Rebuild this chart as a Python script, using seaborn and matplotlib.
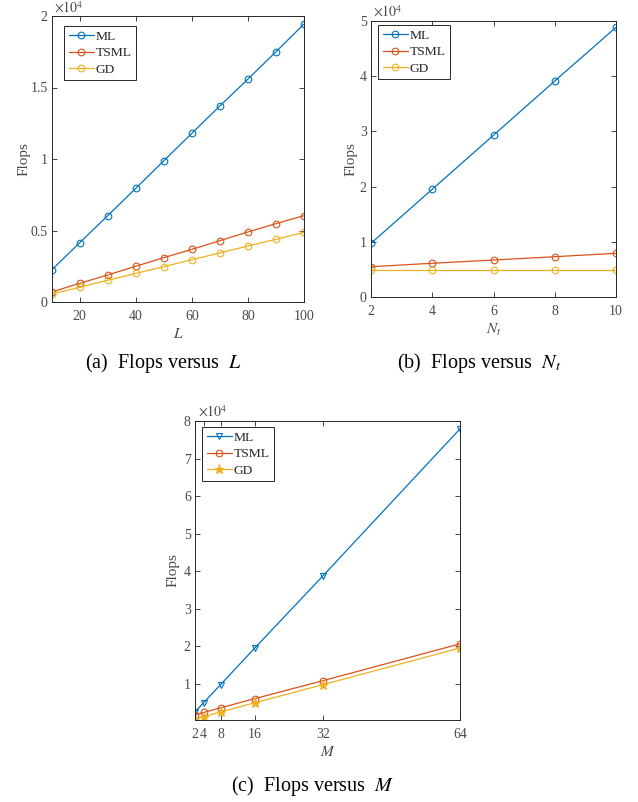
import numpy as np
import pandas as pd
import matplotlib
matplotlib.use("Agg")
import matplotlib.pyplot as plt
import seaborn as sns
from matplotlib.ticker import FuncFormatter

# ---------------- data (flops) ----------------
L_vals = [10, 20, 30, 40, 50, 60, 70, 80, 90, 100]
a_ML = [2240, 4150, 6040, 7950, 9880, 11800, 13710, 15590, 17500, 19440]
a_TSML = [700, 1310, 1890, 2500, 3100, 3680, 4290, 4900, 5480, 6040]
a_GD = [560, 1030, 1520, 2000, 2470, 2960, 3430, 3920, 4380, 4870]

Nt_vals = [2, 4, 6, 8, 10]
b_ML = [9760, 19530, 29300, 39100, 48800]
b_TSML = [5530, 6150, 6740, 7340, 7950]
b_GD = [4880, 4880, 4880, 4880, 4880]

M_vals = [2, 4, 8, 16, 32, 64]
c_ML = [2440, 4880, 9750, 19500, 38800, 77900]
c_TSML = [1700, 2300, 3550, 6000, 10800, 20600]
c_GD = [600, 1200, 2450, 4900, 9750, 19500]

series_names = ["ML", "TSML", "GD"]
captions = [r"(a)  Flops versus  $L$", r"(b)  Flops versus  $N_t$", r"(c)  Flops versus  $M$"]
xlabels = [r"$L$", r"$N_t$", r"$M$"]

colors = ["#0072BD", "#D95319", "#EDB120"]

# ---------------- style ----------------
sns.set_style("ticks")
plt.rcParams["font.family"] = ["Liberation Serif", "DejaVu Serif"]
plt.rcParams["mathtext.fontset"] = "stix"
dark = "#262626"
grey = "#4a4a4a"
plt.rcParams.update({
    "xtick.direction": "in", "ytick.direction": "in",
    "xtick.top": True, "ytick.right": True,
    "xtick.major.size": 3.5, "ytick.major.size": 3.5,
    "xtick.major.width": 0.6, "ytick.major.width": 0.6,
    "axes.edgecolor": dark, "axes.linewidth": 0.7,
    "xtick.color": dark, "ytick.color": dark,
    "xtick.labelcolor": grey, "ytick.labelcolor": grey,
    "axes.labelcolor": grey,
})

fig = plt.figure(figsize=(6.38, 8.02), dpi=100)
W, H = 638, 802

def add_ax(left, top, right, bottom):
    ax = fig.add_axes([left / W, 1 - bottom / H, (right - left) / W, (bottom - top) / H])
    ax._pxsize = (right - left, bottom - top)
    return ax

ax_a = add_ax(51.7, 16, 304, 302)
ax_b = add_ax(371, 20.7, 616, 297.3)
ax_c = add_ax(195, 421, 460, 720)

fmt = FuncFormatter(lambda v, p: f"{v:g}")

def draw(ax, x, ys, markers, fills, leg_dx, leg_dy, ylabpad):
    for name, y, col, m, f in zip(series_names, ys, colors, markers, fills):
        df = pd.DataFrame({"x": x, "y": np.asarray(y) / 1e4})
        sns.lineplot(data=df, x="x", y="y", ax=ax, color=col, marker=m,
                     markersize=4.8 if m != "*" else 6.5, markerfacecolor=(col if f else "none"),
                     markeredgecolor=col, markeredgewidth=0.8, linewidth=0.9,
                     label=name, legend=False)
    ax.yaxis.set_major_formatter(fmt)
    ax.xaxis.set_major_formatter(fmt)
    ax.tick_params(axis="x", labelsize=10, pad=5.5)
    ax.tick_params(axis="y", labelsize=10, pad=3)
    ax.set_ylabel("Flops", fontsize=11, labelpad=ylabpad)
    ax.text(0.01, 1.003, r"$\times10^4$", transform=ax.transAxes, ha="left", va="bottom",
            fontsize=10, color=grey)
    w, h = ax._pxsize
    leg = ax.legend(loc="upper left", bbox_to_anchor=(leg_dx / w, 1 - leg_dy / h),
                    fontsize=9.7, frameon=True, fancybox=False,
                    edgecolor=dark, framealpha=1, borderaxespad=0.0, handlelength=1.85,
                    handletextpad=0.15, labelspacing=0.28, borderpad=0.35)
    leg.get_frame().set_linewidth(0.7)
    for t in leg.get_texts():
        t.set_color(dark)

draw(ax_a, L_vals, [a_ML, a_TSML, a_GD], ["o", "o", "o"], [False, False, False], 12.3, 10, 0)
ax_a.set_xlim(10, 100)
ax_a.set_ylim(0, 2)
ax_a.set_xticks([20, 40, 60, 80, 100])
ax_a.set_yticks([0, 0.5, 1, 1.5, 2])
ax_a.set_xlabel(xlabels[0], fontsize=11, labelpad=3)

draw(ax_b, Nt_vals, [b_ML, b_TSML, b_GD], ["o", "o", "o"], [False, False, False], 7, 4.3, 1.5)
ax_b.set_xlim(2, 10)
ax_b.set_ylim(0, 5)
ax_b.set_xticks(Nt_vals)
ax_b.set_yticks([0, 1, 2, 3, 4, 5])
ax_b.set_xlabel(xlabels[1], fontsize=11, labelpad=3)

draw(ax_c, M_vals, [c_ML, c_TSML, c_GD], ["v", "o", "*"], [False, False, True], 7, 6, 3)
ax_c.set_xlim(2, 64)
ax_c.set_ylim(0.03, 8)
ax_c.set_xticks(M_vals)
ax_c.set_yticks([1, 2, 3, 4, 5, 6, 7, 8])
ax_c.set_xlabel(xlabels[2], fontsize=11, labelpad=3)

fig.text(163 / W, 1 - 368 / H, captions[0], ha="center", va="baseline", fontsize=14.5, color="black")
fig.text(479 / W, 1 - 368 / H, captions[1], ha="center", va="baseline", fontsize=14.5, color="black")
fig.text(313 / W, 1 - 791 / H, captions[2], ha="center", va="baseline", fontsize=14.5, color="black")

fig.savefig("out.png", dpi=100)
